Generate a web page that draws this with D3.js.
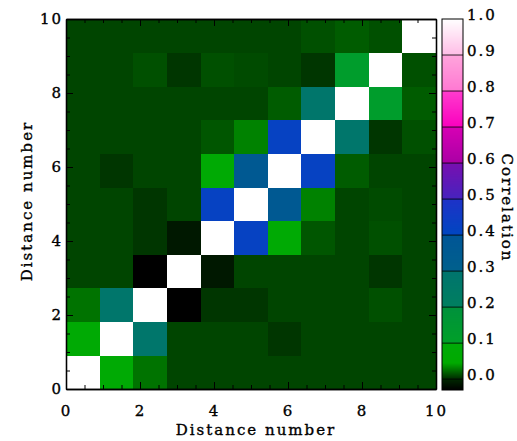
<!DOCTYPE html>
<html>
<head>
<meta charset="utf-8">
<script src="https://cdn.jsdelivr.net/npm/d3@7"></script>
<style>
  body { margin: 0; background: #fff; }
  text { font-family: "DejaVu Serif", serif; font-size: 15px; letter-spacing: 2px; fill: #000;
         stroke: #000; stroke-width: 0.35px; }
</style>
</head>
<body>
<div id="chart"></div>
<script>
// correlation matrix, rows from bottom (distance 0) to top (distance 10)
var corrRows = [
  [1.00, 0.07, 0.026, 0.010, 0.010, 0.010, 0.010, 0.010, 0.010, 0.010, 0.010],
  [0.07, 1.00, 0.28, 0.010, 0.010, 0.010, 0.005, 0.010, 0.010, 0.010, 0.010],
  [0.026, 0.28, 1.00, -0.03, 0.005, 0.005, 0.010, 0.010, 0.010, 0.014, 0.010],
  [0.010, 0.010, -0.03, 1.00, -0.012, 0.010, 0.010, 0.010, 0.010, 0.005, 0.010],
  [0.010, 0.010, 0.005, -0.012, 1.00, 0.42, 0.07, 0.016, 0.010, 0.014, 0.010],
  [0.010, 0.010, 0.005, 0.010, 0.42, 1.00, 0.36, 0.031, 0.010, 0.012, 0.010],
  [0.010, 0.005, 0.010, 0.010, 0.07, 0.36, 1.00, 0.42, 0.018, 0.010, 0.010],
  [0.010, 0.010, 0.010, 0.010, 0.016, 0.031, 0.42, 1.00, 0.28, 0.005, 0.014],
  [0.010, 0.010, 0.010, 0.010, 0.010, 0.010, 0.018, 0.28, 1.00, 0.12, 0.018],
  [0.010, 0.010, 0.014, 0.005, 0.014, 0.012, 0.010, 0.005, 0.12, 1.00, 0.014],
  [0.010, 0.010, 0.010, 0.010, 0.010, 0.010, 0.010, 0.014, 0.018, 0.014, 1.00]
];
var axisTicks = [0, 2, 4, 6, 8, 10];
var barTicks = [0.0, 0.1, 0.2, 0.3, 0.4, 0.5, 0.6, 0.7, 0.8, 0.9, 1.0];
var barMin = -0.03, barMax = 1.0;

// colour table: black -> green -> teal -> blue -> purple -> pink -> white
var stops = [
  [-0.03, "#000000"], [0.0, "#002800"], [0.045, "#00aa00"], [0.1, "#00aa08"],
  [0.1001, "#00a028"], [0.2, "#00913c"],
  [0.2001, "#007f5f"], [0.3, "#00746e"],
  [0.3001, "#00608c"], [0.4, "#005596"],
  [0.4001, "#0046c0"], [0.5, "#1e32c8"],
  [0.5001, "#4623be"], [0.6, "#780fb0"],
  [0.6001, "#aa00a5"], [0.7, "#d700b4"],
  [0.7001, "#fa00be"], [0.8, "#ff3ccd"],
  [0.8001, "#ff78d2"], [0.9, "#ffa5dc"],
  [0.9001, "#ffbde6"], [1.0, "#ffffff"]
];
var color = d3.scaleLinear()
  .domain(stops.map(function(s) { return s[0]; }))
  .range(stops.map(function(s) { return s[1]; }))
  .clamp(true);

var mrg = { top: 19, left: 66 },
    W = 370, H = 370;

var svg = d3.select("#chart").append("svg")
  .attr("width", 517).attr("height", 441);

var chart = svg.append("g")
  .attr("transform", `translate(${mrg.left}, ${mrg.top})`);

var xScale = d3.scaleLinear().domain([0, 10]).range([0, W]);
var yScale = d3.scaleLinear().domain([0, 10]).range([H, 0]);
var cellX = d3.scaleBand().domain(d3.range(11)).range([0, W]);
var cellY = d3.scaleBand().domain(d3.range(11)).range([H, 0]);

var cells = [];
corrRows.forEach(function(row, j) {
  row.forEach(function(v, i) { cells.push({ i: i, j: j, v: v }); });
});

chart.append("g").selectAll("rect")
  .data(cells).enter().append("rect")
  .attr("x", function(d) { return cellX(d.i); })
  .attr("y", function(d) { return cellY(d.j); })
  .attr("width", cellX.bandwidth() + 0.4)
  .attr("height", cellY.bandwidth() + 0.4)
  .attr("fill", function(d) { return color(d.v); })
  .attr("shape-rendering", "crispEdges");

// axes, ticks pointing inward
var minor = d3.range(0, 10.01, 0.5);
function addAxis(axisFn, scale, tr, pad) {
  var g1 = chart.append("g").attr("transform", tr)
    .call(axisFn(scale).tickValues(minor).tickSizeInner(-4).tickSizeOuter(0).tickFormat(""));
  var g2 = chart.append("g").attr("transform", tr)
    .call(axisFn(scale).tickValues(axisTicks).tickSizeInner(-7).tickSizeOuter(0)
      .tickPadding(pad || 0).tickFormat(pad ? d3.format("d") : ""));
  [g1, g2].forEach(function(g) {
    g.select(".domain").attr("stroke", "#000").attr("stroke-width", 1.3);
    g.selectAll("line").attr("stroke", "#000").attr("stroke-width", 1);
    g.selectAll("text").attr("font-family", null).attr("font-size", null);
  });
  return g2;
}
addAxis(d3.axisBottom, xScale, `translate(0, ${H})`, 16);
addAxis(d3.axisTop, xScale, "translate(0, 0)", 0);
addAxis(d3.axisLeft, yScale, "translate(0, 0)", 3);
addAxis(d3.axisRight, yScale, `translate(${W}, 0)`, 0);

chart.append("text")
  .attr("x", W / 2 + 5).attr("y", 416)
  .attr("text-anchor", "middle")
  .text("Distance number");

chart.append("text")
  .attr("transform", `translate(-34, ${H / 2 - 3}) rotate(-90)`)
  .attr("text-anchor", "middle")
  .text("Distance number");

// colour bar
var bar = svg.append("g").attr("transform", "translate(442, 0)");
var barW = 21;
var cScale = d3.scaleLinear().domain([barMin, barMax]).range([390, 19]);
var steps = d3.range(390, 19, -1);
bar.selectAll("rect.s").data(steps).enter().append("rect")
  .attr("x", 0).attr("y", function(d) { return d - 1; })
  .attr("width", barW).attr("height", 1.2)
  .attr("fill", function(d) { return color(cScale.invert(d - 0.5)); })
  .attr("shape-rendering", "crispEdges");

bar.selectAll("line.t").data(barTicks.slice(0, 10)).enter().append("line")
  .attr("x1", 0).attr("x2", barW)
  .attr("y1", function(d) { return cScale(d); })
  .attr("y2", function(d) { return cScale(d); })
  .attr("stroke", "#000").attr("stroke-opacity", 0.55).attr("stroke-width", 1.5);

bar.append("rect")
  .attr("x", 0).attr("y", 19).attr("width", barW).attr("height", 371)
  .attr("fill", "none").attr("stroke", "#000").attr("stroke-width", 1);

bar.selectAll("text.l").data(barTicks).enter().append("text")
  .attr("x", 25)
  .attr("y", function(d) { return cScale(d) + 1; })
  .text(function(d) { return d3.format(".1f")(d); });

svg.append("text")
  .attr("transform", "translate(502, 208) rotate(90)")
  .attr("text-anchor", "middle")
  .text("Correlation");
</script>
</body>
</html>
